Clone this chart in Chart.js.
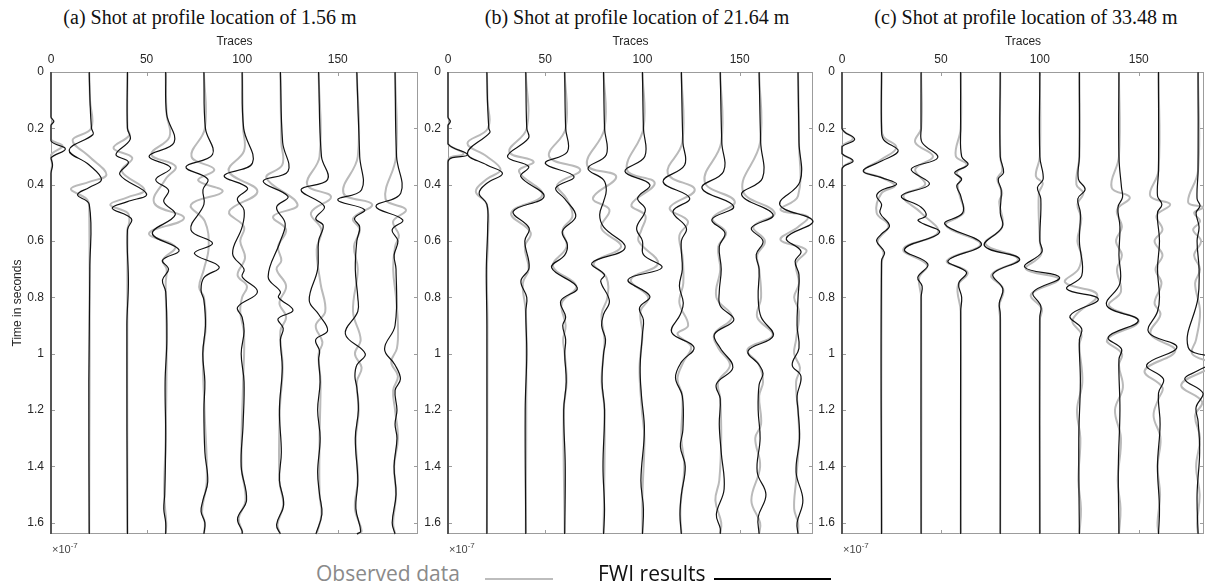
<!DOCTYPE html>
<html>
<head>
<meta charset="utf-8">
<script src="https://cdn.jsdelivr.net/npm/chart.js@4.4.1/dist/chart.umd.min.js"></script>
<style>
  body { margin: 0; background: #fff; width: 1206px; height: 587px; position: relative; overflow: hidden; font-family: "Liberation Sans", Arial, sans-serif; }
  .panel { position: absolute; top: 30px; }
  .title { position: absolute; top: 6px; width: 420px; text-align: center; font-family: "Liberation Serif", "Times New Roman", serif; font-size: 20px; color: #111; white-space: nowrap; }
  .exp { position: absolute; top: 541px; font-size: 11px; color: #444; }
  .exp sup { font-size: 8px; }
  .legend-text { position: absolute; top: 559px; font-family: "Open Sans", sans-serif; font-size: 21px; white-space: nowrap; }
  .legend-line { position: absolute; top: 578px; height: 2px; }
</style>
</head>
<body>

<div class="title" style="left:0px">(a) Shot at profile location of 1.56 m</div>
<div class="title" style="left:427px">(b) Shot at profile location of 21.64 m</div>
<div class="title" style="left:816px">(c) Shot at profile location of 33.48 m</div>

<div class="panel" style="left:0px"><canvas id="chartA" width="430" height="520"></canvas></div>
<div class="panel" style="left:415px"><canvas id="chartB" width="410" height="520"></canvas></div>
<div class="panel" style="left:805px"><canvas id="chartC" width="401" height="520"></canvas></div>

<div class="exp" style="left:52px">&times;10<sup>-7</sup></div>
<div class="exp" style="left:449px">&times;10<sup>-7</sup></div>
<div class="exp" style="left:843px">&times;10<sup>-7</sup></div>

<div class="legend-text" style="left:316px; color:#8a8a8a">Observed data</div>
<div class="legend-line" style="left:485px; width:68px; background:#bdbdbd"></div>
<div class="legend-text" style="left:598px; color:#111">FWI results</div>
<div class="legend-line" style="left:714px; width:117px; background:#000"></div>

<script>
// trace positions on the "Traces" axis, and the tick labels
const traceOffsets = [0, 20, 40, 60, 80, 100, 120, 140, 160, 180];
const xTicks = [0, 50, 100, 150];
const yTicks = [0, 0.2, 0.4, 0.6, 0.8, 1, 1.2, 1.4, 1.6];
const yMax = 1.64;

// each trace: [time, deflection in trace units]
const fwiA = [
  [[0.16,0],[0.175,1.5],[0.19,0],[0.245,0],[0.273,7.5],[0.305,0],[0.33,0.8],[0.36,0]],
  [[0.1,0.4],[0.2,1.2],[0.222,2],[0.277,-10.5],[0.33,0],[0.382,6.4],[0.41,0],[0.436,-6.1],[0.47,0],[0.7,0.3],[1.1,-0.2]],
  [[0.2,0],[0.24,1.4],[0.293,-6],[0.32,0.5],[0.364,-4],[0.433,10],[0.46,0],[0.483,-8],[0.51,0],[0.525,2.3],[0.56,0],[0.75,0.5],[0.9,-0.3]],
  [[0.15,0.5],[0.25,4.4],[0.299,-8.7],[0.34,2.6],[0.382,-5.2],[0.42,1.5],[0.46,-1],[0.507,5],[0.573,-7],[0.632,7],[0.668,-1.7],[0.7,1.5],[0.739,-1.7],[0.78,0],[0.95,0.6],[1.1,-0.3],[1.3,0],[1.5,-0.5],[1.55,-1],[1.6,0]],
  [[0.2,0.8],[0.293,4.5],[0.337,-9.4],[0.38,2],[0.418,-0.5],[0.47,0],[0.56,-6.8],[0.608,4.5],[0.644,-5],[0.692,8],[0.73,0],[0.775,-1.5],[0.81,0],[0.9,0.8],[1.0,-0.6],[1.1,0.5],[1.2,0],[1.35,0.5],[1.454,2],[1.52,-0.5],[1.56,-1.5],[1.6,0.5]],
  [[0.2,0.8],[0.323,5.4],[0.368,-9.4],[0.412,2.8],[0.45,-2.5],[0.49,1],[0.55,0],[0.644,-5],[0.7,1],[0.727,0],[0.781,8],[0.835,-2.4],[0.87,0],[0.92,1],[1.0,-0.5],[1.1,1],[1.25,0.5],[1.4,-0.5],[1.52,2.3],[1.585,-2.4],[1.63,0]],
  [[0.25,1.2],[0.352,4],[0.388,-9],[0.442,4],[0.48,-2],[0.537,2.5],[0.6,0],[0.727,-6.4],[0.78,0],[0.8,-1],[0.846,6.6],[0.876,-1.2],[0.91,1.5],[0.95,0],[1.05,1],[1.2,-0.5],[1.35,0.5],[1.45,-0.5],[1.536,1.7],[1.607,-2]],
  [[0.3,1.5],[0.382,4.7],[0.418,-9.2],[0.477,3],[0.52,-1.5],[0.545,2.4],[0.6,0],[0.7,-0.5],[0.81,-4.9],[0.86,0],[0.918,4.7],[0.95,-1.5],[0.99,0.5],[1.02,0],[1.1,0.8],[1.2,-0.5],[1.3,0.8],[1.42,-0.5],[1.5,0.5],[1.57,1.7],[1.64,-1.4]],
  [[0.3,1.5],[0.418,2.5],[0.454,-10],[0.489,4],[0.52,-1.2],[0.55,1.5],[0.6,0],[0.7,-0.8],[0.8,0.5],[0.85,0.5],[0.93,-6],[1.0,4.4],[1.04,0],[1.08,-1],[1.12,0],[1.2,0.8],[1.3,-0.8],[1.45,0.5],[1.55,-0.5],[1.63,2]],
  [[0.3,0.8],[0.43,3],[0.477,-10],[0.525,4],[0.56,-1.5],[0.6,1.5],[0.65,-0.5],[0.7,0.5],[0.9,0],[0.983,-5.5],[1.04,0],[1.09,2.8],[1.13,0],[1.2,1],[1.25,0],[1.3,1],[1.4,-0.5],[1.5,0.5],[1.6,-1.5]]
];
const obsA = [
  [[0.16,0],[0.175,1],[0.19,0],[0.24,0],[0.262,6],[0.295,0],[0.33,0.5],[0.36,0]],
  [[0.1,0.4],[0.2,1],[0.242,-8.7],[0.3,0],[0.364,9],[0.39,0],[0.415,-9.6],[0.45,-1.5],[0.48,0]],
  [[0.2,0],[0.225,1],[0.27,-7.3],[0.305,2.5],[0.352,-3],[0.418,8.9],[0.445,0],[0.471,-9],[0.5,0],[0.53,1],[0.56,0]],
  [[0.15,0.5],[0.23,2],[0.293,-7.5],[0.335,5.2],[0.38,0],[0.465,-6],[0.519,9.6],[0.573,-8.7],[0.62,5],[0.668,-1.5],[0.7,0.5],[0.75,0],[0.95,0.5],[1.3,0],[1.5,-0.8],[1.6,0.3]],
  [[0.2,0.5],[0.3,-6.5],[0.346,5.4],[0.385,-3],[0.424,9.8],[0.471,-6.8],[0.53,0.5],[0.62,2.5],[0.7,0],[0.763,-2.5],[0.8,0],[0.9,1],[1.0,-0.5],[1.2,0.3],[1.45,1.5],[1.56,-1],[1.6,0.5]],
  [[0.2,0.5],[0.28,1],[0.352,-7],[0.424,8],[0.495,-6.8],[0.55,1],[0.6,-1],[0.66,1.5],[0.721,-2.4],[0.76,2.5],[0.8,0],[0.85,-1],[0.93,1],[1.1,0.5],[1.4,-0.3],[1.52,1.8],[1.585,-1.8],[1.63,0]],
  [[0.25,0.5],[0.33,1],[0.376,-7.3],[0.471,9],[0.513,-3.8],[0.56,3],[0.62,-1.2],[0.67,0.5],[0.7,-2],[0.76,3],[0.82,-0.5],[0.87,3],[0.92,0],[1.05,1.2],[1.2,-0.3],[1.45,-0.5],[1.536,1.5],[1.607,-1.5]],
  [[0.3,0.5],[0.4,-6],[0.443,6.5],[0.5,-4],[0.56,1.5],[0.63,-1],[0.75,1],[0.85,3.5],[0.9,-1.5],[0.96,2],[1.0,0],[1.1,1],[1.3,0.5],[1.5,0.5],[1.57,1.5],[1.64,-1]],
  [[0.3,0.5],[0.43,-7],[0.47,8],[0.52,-2],[0.56,1.5],[0.62,-1.5],[0.7,0.5],[0.85,-2],[0.95,2],[1.0,-1],[1.05,2.5],[1.1,0],[1.2,1],[1.3,-0.5],[1.45,0.5],[1.55,-1],[1.63,2.5]],
  [[0.3,0.5],[0.45,-5],[0.489,5.7],[0.53,-1],[0.58,2],[0.62,0],[0.7,-1],[0.8,0.5],[0.9,1.5],[0.98,1],[1.03,-2],[1.08,1.5],[1.13,-1],[1.2,0],[1.3,1.5],[1.4,-0.5],[1.5,0.5],[1.6,-1]]
];

const fwiB = [
  [[0.16,0],[0.176,1.2],[0.19,0],[0.255,0],[0.294,10],[0.32,0]],
  [[0.1,0.3],[0.2,1],[0.215,1.5],[0.288,-10],[0.33,0],[0.36,8],[0.395,0],[0.43,-4],[0.47,0],[0.55,0.4],[0.7,-0.3],[0.9,0]],
  [[0.2,0.5],[0.235,1.4],[0.3,-9.4],[0.336,1.5],[0.371,-2.6],[0.442,9.4],[0.495,-6.5],[0.554,1.7],[0.6,-0.5],[0.695,1.7],[0.742,-2.5],[0.8,0.5],[0.85,0],[1.0,0.5],[1.2,-0.3]],
  [[0.2,0.5],[0.283,1.4],[0.324,-10],[0.371,4.8],[0.412,-4.6],[0.45,0],[0.512,5.7],[0.566,-1.2],[0.613,1.4],[0.65,0],[0.695,-6.7],[0.766,6.5],[0.813,-2],[0.87,0.5],[0.9,-1],[0.95,0.5],[1.0,0],[1.1,0.8],[1.2,-0.5],[1.4,0.3]],
  [[0.2,0.5],[0.294,1.4],[0.342,-8],[0.383,0],[0.42,1.4],[0.46,0],[0.507,-2],[0.55,0],[0.625,11],[0.678,-6],[0.72,0.5],[0.742,-1.5],[0.813,3],[0.86,0],[0.9,-1],[0.95,1],[1.0,0],[1.1,-0.8],[1.2,0.5],[1.4,-0.3],[1.55,0.5]],
  [[0.2,0.5],[0.3,1.2],[0.353,-9],[0.4,3.8],[0.448,-2.5],[0.489,1.5],[0.554,-3],[0.6,0],[0.648,0.5],[0.695,10],[0.737,-7.4],[0.796,3.8],[0.837,-1.5],[0.88,0.5],[0.93,0],[1.05,-1.2],[1.15,-0.5],[1.27,1],[1.45,-0.8],[1.55,0.5]],
  [[0.25,0.8],[0.33,1.7],[0.389,-9.4],[0.448,4.3],[0.495,-4.3],[0.554,2.6],[0.6,0],[0.7,0.5],[0.76,-1],[0.82,1],[0.86,-0.5],[0.924,-5],[0.977,6.5],[1.03,0],[1.085,-3],[1.15,0.5],[1.27,0.8],[1.33,-0.5],[1.4,2],[1.5,0],[1.57,-0.7]],
  [[0.25,0.8],[0.353,1.7],[0.412,-9.4],[0.477,6.9],[0.524,-4.3],[0.571,2.4],[0.62,-0.5],[0.7,0.5],[0.78,-0.5],[0.83,0],[0.88,7],[0.931,-3],[0.98,0],[1.049,6.5],[1.108,-2],[1.16,0],[1.25,-0.5],[1.35,0.5],[1.48,2],[1.57,-2],[1.62,0]],
  [[0.25,0.8],[0.377,1.7],[0.436,-9],[0.507,7.2],[0.554,-4],[0.6,2],[0.648,-1.5],[0.7,0],[0.8,-0.5],[0.87,1],[0.937,7.2],[0.99,-5.7],[1.04,0],[1.07,2],[1.11,0],[1.2,-0.5],[1.3,0.5],[1.42,-1],[1.5,3.5],[1.58,-0.5]],
  [[0.25,0.5],[0.389,1],[0.471,-9.4],[0.53,7.7],[0.589,-6],[0.636,1.5],[0.672,-1.5],[0.72,0.5],[0.8,0],[0.9,-0.5],[0.98,0.5],[1.04,-3],[1.08,1.5],[1.15,-0.5],[1.2,0],[1.3,0.8],[1.42,-1],[1.52,2.5],[1.6,-0.5]]
];
const obsB = [
  [[0.16,0],[0.176,1],[0.19,0],[0.255,0],[0.29,8],[0.315,0]],
  [[0.1,0.3],[0.2,0.5],[0.253,-10],[0.3,0],[0.347,7],[0.38,0],[0.424,-5.7],[0.47,0],[0.6,0.5],[0.7,0],[0.9,0.3]],
  [[0.2,0.5],[0.283,-8.5],[0.318,4],[0.353,-3.5],[0.436,8.5],[0.5,-7.5],[0.57,2.5],[0.62,-0.5],[0.7,1.5],[0.75,-1.5],[0.85,0],[1.0,0.3]],
  [[0.2,0.5],[0.3,-8],[0.347,8],[0.4,-3.8],[0.45,1],[0.512,4],[0.56,-1],[0.62,1],[0.69,-6],[0.76,6],[0.82,-1.5],[0.9,0.5],[0.95,-0.8],[1.0,0],[1.1,1],[1.2,-0.5]],
  [[0.2,0.5],[0.33,-8.5],[0.371,6.5],[0.448,-5.5],[0.489,3],[0.554,-1.2],[0.62,9],[0.678,-5],[0.73,1.5],[0.8,2],[0.86,-1],[0.95,0.5],[1.0,0],[1.1,-1],[1.2,0.5]],
  [[0.2,0.5],[0.347,-8],[0.394,6.3],[0.471,-5.7],[0.51,1.5],[0.56,-0.5],[0.6,-2],[0.68,8],[0.737,-6],[0.8,3],[0.85,-1],[0.93,0],[1.05,-1.5],[1.2,-0.3],[1.3,1],[1.5,0]],
  [[0.25,0.5],[0.36,-7],[0.418,6.9],[0.483,-6],[0.53,3.4],[0.58,-1],[0.65,0.5],[0.75,1],[0.82,-1],[0.9,3.5],[0.93,-2],[0.975,5],[1.03,1],[1.09,-2],[1.15,0.5],[1.3,0],[1.4,1.5],[1.55,-0.5]],
  [[0.25,0.5],[0.39,-8],[0.46,7.5],[0.52,-4],[0.57,3],[0.62,-1],[0.7,0],[0.8,-2],[0.87,6],[0.93,-3],[0.98,-1],[1.04,5],[1.1,-1],[1.16,0],[1.3,0.5],[1.45,-0.5],[1.52,-2.5],[1.6,0.5]],
  [[0.25,0.5],[0.42,-8.5],[0.5,8],[0.55,-3],[0.6,3],[0.65,-1],[0.7,0],[0.8,1],[0.87,-1],[0.935,7],[0.985,-6],[1.04,0],[1.1,2],[1.15,0],[1.25,1],[1.3,-2],[1.4,0.5],[1.52,-4],[1.6,0.5]],
  [[0.25,0.5],[0.44,0],[0.489,-9],[0.513,5],[0.55,0],[0.596,-9],[0.632,4.3],[0.68,-1],[0.75,0.5],[0.8,-2],[0.85,0.5],[0.95,-1],[1.0,-2],[1.05,1],[1.1,-1],[1.2,0],[1.3,0.5],[1.45,-1],[1.55,-2],[1.6,0]]
];

const fwiC = [
  [[0.2,0],[0.239,6.4],[0.265,0],[0.29,0],[0.316,5.6],[0.345,0]],
  [[0.2,0],[0.24,1],[0.28,8.4],[0.316,0],[0.351,-9.3],[0.375,0],[0.398,7.6],[0.42,0],[0.44,-2.5],[0.47,0],[0.5,-0.8],[0.546,4],[0.575,0],[0.6,-2.5],[0.64,1.5],[0.67,0]],
  [[0.2,0],[0.25,0.5],[0.304,8.4],[0.345,-5],[0.398,4.2],[0.44,-10],[0.48,0],[0.51,2.5],[0.528,-1.5],[0.57,9.3],[0.629,-8.4],[0.682,3.4],[0.729,-1.7],[0.76,0.5],[0.8,0]],
  [[0.2,0],[0.3,0.5],[0.328,3.7],[0.357,-3],[0.38,0.5],[0.404,-2],[0.44,0],[0.5,1],[0.54,-8],[0.611,10.5],[0.67,-6.4],[0.711,2.9],[0.75,-1],[0.8,0.5],[0.85,0]],
  [[0.3,0],[0.357,1.7],[0.38,-1],[0.42,0.5],[0.5,0],[0.55,1],[0.617,-8],[0.664,9.8],[0.717,-3.7],[0.77,1.3],[0.82,-0.5],[0.86,0]],
  [[0.3,0],[0.38,1.7],[0.41,-1.2],[0.45,0.5],[0.6,0],[0.64,1],[0.693,-7.6],[0.729,10],[0.782,-3.4],[0.83,0.5],[0.87,0]],
  [[0.3,0],[0.38,-0.5],[0.416,2.9],[0.45,-0.8],[0.5,0.5],[0.6,0],[0.723,1.2],[0.77,-6.4],[0.806,9.6],[0.865,-4.7],[0.912,1.2],[0.95,0],[1.1,0.5],[1.3,-0.3]],
  [[0.3,0],[0.41,1.3],[0.445,1.8],[0.48,-0.5],[0.55,0.5],[0.65,0],[0.75,0.5],[0.829,-6.2],[0.882,9.8],[0.941,-5.4],[0.983,1.3],[1.02,0],[1.2,0.5],[1.4,-0.3]],
  [[0.35,0],[0.44,-0.5],[0.47,1.7],[0.5,-0.5],[0.6,0.5],[0.7,-0.5],[0.8,0.5],[0.85,-0.5],[0.924,-5],[0.977,9.3],[1.04,-6],[1.09,2.5],[1.14,0],[1.25,0.8],[1.4,-0.5],[1.55,0.5]],
  [[0.35,0],[0.45,-0.5],[0.475,1],[0.5,-1],[0.55,0.5],[0.6,-0.5],[0.7,0.5],[0.8,0],[0.977,-5],[1.02,9.3],[1.06,0],[1.09,-6.7],[1.14,2.5],[1.19,-1],[1.24,0],[1.35,0.8],[1.5,-0.5]]
];
const obsC = [
  [[0.2,0],[0.236,5.5],[0.262,0],[0.29,0],[0.314,5],[0.345,0]],
  [[0.2,0],[0.23,1],[0.268,7.5],[0.31,0],[0.351,-9],[0.375,0],[0.404,6.8],[0.43,0],[0.5,-2.5],[0.546,3.5],[0.6,-2],[0.64,1],[0.68,0]],
  [[0.2,0],[0.25,-3],[0.3,6],[0.345,-3],[0.4,2],[0.44,-9],[0.5,0],[0.57,8.5],[0.629,-9],[0.685,3],[0.73,-1],[0.8,0]],
  [[0.2,0],[0.298,-2.5],[0.328,3],[0.357,-2],[0.38,0],[0.404,-1.5],[0.45,0],[0.5,1.5],[0.545,-7.5],[0.611,10],[0.67,-7],[0.711,3.5],[0.76,-1.5],[0.85,0]],
  [[0.3,0],[0.35,1],[0.38,-1.5],[0.43,1],[0.46,-0.5],[0.55,1],[0.61,-7.5],[0.664,9],[0.72,-4.5],[0.77,1.5],[0.83,-0.5],[0.88,0]],
  [[0.3,0],[0.37,-2],[0.395,1.5],[0.43,-0.5],[0.6,0],[0.65,0.5],[0.7,-7],[0.735,9.5],[0.79,-4.5],[0.84,1],[0.88,0]],
  [[0.3,0],[0.4,-1.5],[0.43,2],[0.47,-1],[0.52,1],[0.6,-1],[0.65,1],[0.7,-0.5],[0.747,-7.2],[0.79,9],[0.86,-1.5],[0.888,-3.5],[0.93,1],[0.97,0],[1.1,1.5],[1.2,-1.2],[1.3,0.5],[1.45,-0.5],[1.55,0.8]],
  [[0.3,0],[0.41,-3.7],[0.445,5.5],[0.49,-1],[0.55,1.5],[0.6,-1.5],[0.65,1.5],[0.7,-1],[0.78,1],[0.83,-5],[0.885,10],[0.95,-6],[1.0,1.5],[1.04,0],[1.12,2],[1.2,-2],[1.3,1],[1.45,-0.6],[1.55,0.8]],
  [[0.35,0],[0.44,-4.2],[0.47,5.9],[0.51,-1],[0.56,2],[0.6,-2],[0.65,2],[0.7,-1.5],[0.75,1.5],[0.82,-2],[0.86,1],[0.93,-4],[0.99,8.5],[1.06,-7],[1.12,2],[1.16,0],[1.22,-2.5],[1.3,1],[1.4,-0.5],[1.5,0.8],[1.6,-0.5]],
  [[0.35,0],[0.463,-5],[0.48,2.5],[0.5,-2],[0.53,1],[0.56,-2.5],[0.6,1.5],[0.65,-2],[0.7,1],[0.75,-1.5],[0.85,1],[0.95,-1],[1.0,-3],[1.04,7],[1.11,-8.5],[1.17,2],[1.22,-1.5],[1.3,1],[1.4,-1],[1.5,0.8],[1.6,-0.5]]
];

// turn a trace into {x, y} points; it starts and ends on its baseline
function traceData(pts, k) {
  const rows = pts.slice();
  if (rows[0][0] > 0) rows.unshift([0, 0]);
  if (rows[rows.length - 1][0] < yMax) rows.push([yMax, 0]);
  return rows.map(([t, dx]) => ({ x: traceOffsets[k] + dx, y: t }));
}

// box round the plot with inward tick marks, like the original axes
const frame = {
  id: 'frame',
  beforeDatasetsDraw(chart) {
    const { ctx, chartArea: a, scales: { x, y } } = chart;
    ctx.save();
    ctx.strokeStyle = '#9c9c9c';
    ctx.lineWidth = 1;
    ctx.strokeRect(a.left + 0.5, a.top + 0.5, a.width - 1, a.height - 1);
    ctx.beginPath();
    xTicks.forEach(v => {
      const px = Math.round(x.getPixelForValue(v)) + 0.5;
      ctx.moveTo(px, a.top); ctx.lineTo(px, a.top + 4);
      ctx.moveTo(px, a.bottom); ctx.lineTo(px, a.bottom - 4);
    });
    yTicks.forEach(v => {
      const py = Math.round(y.getPixelForValue(v)) + 0.5;
      ctx.moveTo(a.left, py); ctx.lineTo(a.left + 4, py);
      ctx.moveTo(a.right, py); ctx.lineTo(a.right - 4, py);
    });
    ctx.stroke();
    ctx.restore();
  }
};

function makePanel(id, fwi, obs, xMax, yWidth, rightPad, showYTitle) {
  const datasets = [];
  fwi.forEach((pts, k) => datasets.push({
    data: traceData(pts, k), borderColor: '#111', borderWidth: 1.2, order: 0
  }));
  obs.forEach((pts, k) => datasets.push({
    data: traceData(pts, k), borderColor: '#bababa', borderWidth: 2, order: 1
  }));

  new Chart(document.getElementById(id), {
    type: 'scatter',
    data: { datasets },
    options: {
      responsive: false,
      animation: false,
      devicePixelRatio: 1,
      showLine: true,
      elements: { point: { radius: 0 }, line: { tension: 0.4 } },
      datasets: { scatter: { clip: 1 } },
      layout: { padding: { left: 0, top: 0, right: rightPad, bottom: 16 } },
      plugins: { legend: { display: false }, tooltip: { enabled: false } },
      scales: {
        x: {
          type: 'linear', position: 'top', min: 0, max: xMax,
          grid: { display: false, drawTicks: false }, border: { display: false },
          afterBuildTicks: s => { s.ticks = xTicks.map(v => ({ value: v })); },
          afterFit: s => { s.height = 42; },
          ticks: { padding: 5, color: '#262626', font: { size: 12, family: 'Liberation Sans' } },
          title: { display: true, text: 'Traces', color: '#262626', padding: { top: 4, bottom: 0 },
                   font: { size: 12, family: 'Liberation Sans' } }
        },
        y: {
          type: 'linear', reverse: true, min: 0, max: yMax,
          grid: { display: false, drawTicks: false }, border: { display: false },
          afterBuildTicks: s => { s.ticks = yTicks.map(v => ({ value: v })); },
          afterFit: s => { s.width = yWidth; },
          ticks: { padding: 7, color: '#262626', font: { size: 12, family: 'Liberation Sans' },
                   callback: v => String(Math.round(v * 10) / 10) },
          title: { display: showYTitle, text: 'Time in seconds', color: '#262626', padding: { top: 10, bottom: 0 },
                   font: { size: 12, family: 'Liberation Sans' } }
        }
      }
    },
    plugins: [frame]
  });
}

makePanel('chartA', fwiA, obsA, 192, 51, 12, true);
makePanel('chartB', fwiB, obsB, 187.7, 33, 12, false);
makePanel('chartC', fwiC, obsC, 183, 37, 2, false);
</script>
</body>
</html>
